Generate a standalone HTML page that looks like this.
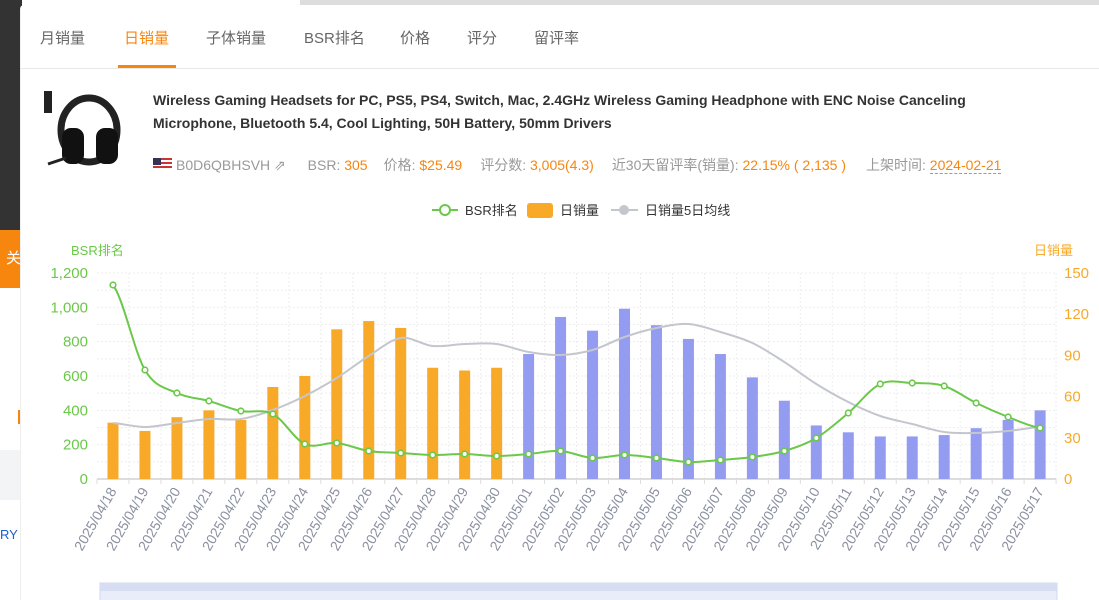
<!DOCTYPE html>
<html><head><meta charset="utf-8"><style>
body{margin:0;width:1099px;height:600px;overflow:hidden;background:#fff;font-family:"Liberation Sans","Noto Sans CJK SC",sans-serif;position:relative}
.abs{position:absolute;white-space:nowrap}
</style></head><body>
<div class="abs" style="left:0;top:0;width:22px;height:600px;background:#f5f6f8"></div>
<div class="abs" style="left:0;top:0;width:22px;height:230px;background:#333"></div>
<div class="abs" style="left:0;top:230px;width:22px;height:58px;background:#f7860f;color:#fff;font-size:15px;line-height:58px;padding-left:6px;box-sizing:border-box">关</div>
<div class="abs" style="left:0;top:288px;width:20px;height:312px;background:#fff"></div>
<div class="abs" style="left:0;top:450px;width:20px;height:50px;background:#f3f4f6"></div>
<div class="abs" style="left:0;top:527px;color:#1a5fd0;font-size:13px">RY</div>
<div class="abs" style="left:18px;top:410px;width:2px;height:14px;background:#f7860f"></div>
<div class="abs" style="left:300px;top:0;width:800px;height:5px;background:#ddd"></div>
<div class="abs" style="left:20px;top:5px;width:1079px;height:595px;background:#fff;border-left:1px solid #eee;border-radius:4px 0 0 0"></div>
<div class="abs" style="left:20px;top:68px;width:1079px;height:1px;background:#e8e8e8"></div>
<div class="abs" style="top:27px;font-size:15px;color:#666;left:40px">月销量</div>
<div class="abs" style="top:27px;font-size:15px;color:#f7860f;left:124px">日销量</div>
<div class="abs" style="left:118px;top:65px;width:58px;height:3px;background:#f7860f"></div>
<div class="abs" style="top:27px;font-size:15px;color:#666;left:206px">子体销量</div>
<div class="abs" style="top:27px;font-size:15px;color:#666;left:304px">BSR排名</div>
<div class="abs" style="top:27px;font-size:15px;color:#666;left:400px">价格</div>
<div class="abs" style="top:27px;font-size:15px;color:#666;left:467px">评分</div>
<div class="abs" style="top:27px;font-size:15px;color:#666;left:534px">留评率</div>
<svg class="abs" style="left:44px;top:88px" width="86" height="86"><rect x="0" y="3" width="8" height="22" fill="#222"/><ellipse cx="45" cy="42" rx="28" ry="32" fill="none" stroke="#222" stroke-width="7"/><rect x="18" y="40" width="22" height="36" rx="9" fill="#111"/><rect x="52" y="40" width="22" height="36" rx="9" fill="#111"/><line x1="22" y1="70" x2="4" y2="76" stroke="#222" stroke-width="3"/></svg>
<div class="abs" style="left:153px;top:89px;font-size:14px;font-weight:bold;color:#333;line-height:23px">Wireless Gaming Headsets for PC, PS5, PS4, Switch, Mac, 2.4GHz Wireless Gaming Headphone with ENC Noise Canceling<br>Microphone, Bluetooth 5.4, Cool Lighting, 50H Battery, 50mm Drivers</div>
<div class="abs" style="left:153px;top:158px;width:19px;height:12px;background:repeating-linear-gradient(#c33 0 2px,#fff 2px 4px)"><div style="width:8px;height:7px;background:#335"></div></div>
<div class="abs" style="left:176px;top:155px;font-size:14px;color:#999">B0D6QBHSVH ⇗ <span style="margin-left:18px">BSR: <span style="color:#f7860f">305</span></span><span style="margin-left:16px">价格: <span style="color:#f7860f">$25.49</span></span><span style="margin-left:18px">评分数: <span style="color:#f7860f">3,005(4.3)</span></span><span style="margin-left:18px">近30天留评率(销量): <span style="color:#f7860f">22.15% ( 2,135 )</span></span><span style="margin-left:20px">上架时间: <span style="color:#f7860f;border-bottom:1px dashed #f7860f">2024-02-21</span></span></div>
<svg class="abs" style="left:0;top:0" width="1099" height="600" id="c" font-family="Liberation Sans, Noto Sans CJK SC, sans-serif"></svg>
<script>
const s=document.getElementById('c');let h='';
const X0=97,W=31.97,Y0=479,YT=273;
for(let i=0;i<=12;i++){const y=Y0-(Y0-YT)*i/12;h+=`<line x1="${X0}" x2="1056" y1="${y}" y2="${y}" stroke="#eee" stroke-dasharray="2,2"/>`}
for(let i=1;i<=30;i++){const x=X0+W*i;h+=`<line x1="${x}" x2="${x}" y1="${YT}" y2="${Y0}" stroke="#eee" stroke-dasharray="2,2"/>`}
h+=`<line x1="${X0}" x2="1056" y1="${Y0}" y2="${Y0}" stroke="#ddd" stroke-width="2"/>`;
for(let i=0;i<=30;i++){const x=X0+W*i;h+=`<line x1="${x}" x2="${x}" y1="${Y0}" y2="${Y0+5}" stroke="#ddd"/>`}
for(let i=0;i<=6;i++){const y=Y0-(Y0-YT)*i/6;h+=`<text x="88" y="${y+5}" text-anchor="end" font-size="15" fill="#6cc84a">${(i*200).toLocaleString('en')}</text>`}
for(let i=0;i<=5;i++){const y=Y0-(Y0-YT)*i/5;h+=`<text x="1064" y="${y+5}" font-size="15" fill="#f8a928">${i*30}</text>`}
h+=`<text x="71" y="255" font-size="13" fill="#6cc84a">BSR排名</text><text x="1034" y="255" font-size="13" fill="#f8a928">日销量</text>`;
const bars=[41,35,45,50,43,67,75,109,115,110,81,79,81,91,118,108,124,112,102,91,74,57,39,34,31,31,32,37,43,50];
const bsr=[285,370,393,401,411,414,444,443,451,453,455,454,456,454,451,458,455,458,462,460,457,451,438,413,384,383,386,403,417,428];
const ma=[423,427,423,419,419,410,396,378,356,338,346,344,344,352,355,350,337,328,324,332,343,362,384,402,416,424,432,433,431,427];
const cx=i=>X0+W*i+W/2;
bars.forEach((v,i)=>{const bh=v/150*(Y0-YT);h+=`<rect x="${cx(i)-5.5}" y="${Y0-bh}" width="11" height="${bh}" fill="${i<13?'#f8a928':'#949cf2'}"/>`});
function sm(ys){let d=`M${cx(0)},${ys[0]}`;for(let i=0;i<ys.length-1;i++){const p0=ys[Math.max(i-1,0)],p1=ys[i],p2=ys[i+1],p3=ys[Math.min(i+2,ys.length-1)];d+=` C${cx(i)+W/3},${p1+(p2-p0)/6} ${cx(i+1)-W/3},${p2-(p3-p1)/6} ${cx(i+1)},${p2}`}return d}
h+=`<path d="${sm(ma)}" fill="none" stroke="#c3c6cd" stroke-width="2"/>`;
h+=`<path d="${sm(bsr)}" fill="none" stroke="#6cc84a" stroke-width="2"/>`;
bsr.forEach((y,i)=>{h+=`<circle cx="${cx(i)}" cy="${y}" r="2.8" fill="#fff" stroke="#6cc84a" stroke-width="1.6"/>`});
const d0=new Date(2025,3,18);
for(let i=0;i<30;i++){const d=new Date(d0.getTime()+i*864e5);const t=`2025/${String(d.getMonth()+1).padStart(2,'0')}/${String(d.getDate()).padStart(2,'0')}`;h+=`<text transform="translate(${cx(i)+4},${Y0+12}) rotate(-60)" text-anchor="end" font-size="14" fill="#8a90a0">${t}</text>`}
h+=`<line x1="432" x2="458" y1="210" y2="210" stroke="#6cc84a" stroke-width="2"/><circle cx="445" cy="210" r="5" fill="#fff" stroke="#6cc84a" stroke-width="2"/><text x="465" y="215" font-size="13" fill="#333">BSR排名</text>`;
h+=`<rect x="527" y="203" width="26" height="15" rx="3" fill="#f8a928"/><text x="560" y="215" font-size="13" fill="#333">日销量</text>`;
h+=`<line x1="611" x2="638" y1="210" y2="210" stroke="#c3c6cd" stroke-width="2"/><circle cx="624" cy="210" r="5" fill="#c3c6cd"/><text x="645" y="215" font-size="13" fill="#333">日销量5日均线</text>`;
h+=`<rect x="100" y="583" width="957" height="20" fill="#e8edf9" stroke="#d2d9ee"/><rect x="100" y="583" width="957" height="8" fill="#d7def2"/>`;
s.innerHTML=h;
</script>
</body></html>
